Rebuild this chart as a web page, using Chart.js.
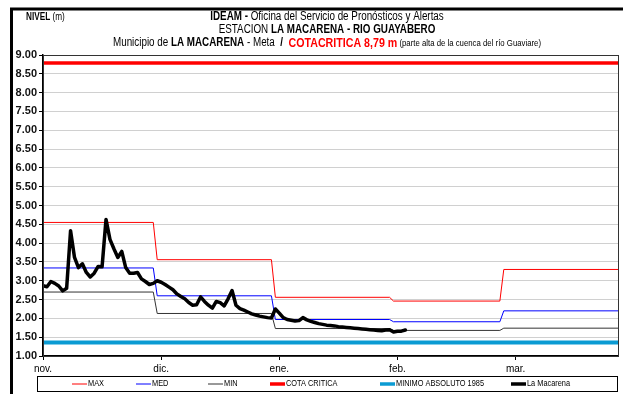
<!DOCTYPE html>
<html>
<head>
<meta charset="utf-8">
<title>Nivel La Macarena</title>
<script src="https://cdn.jsdelivr.net/npm/chart.js@4"></script>
<style>
  html, body { margin: 0; padding: 0; background: #fff; }
  canvas { display: block; }
</style>
</head>
<body>
<canvas id="nivelChart" width="623" height="394"></canvas>
<script>
// month labels on the day axis, one every 30 days from nov. 1
const monthLabels = ['nov.', 'dic.', 'ene.', 'feb.', 'mar.'];
const monthTickDays = [0, 30, 60, 90, 120];
const lastDay = 146;

// day on which each reference level period starts
const periodStartDays = [0, 29, 59, 89, 117];
const maxLevels = [4.55, 3.56, 2.56, 2.46, 3.30];
const medLevels = [3.34, 2.60, 1.97, 1.91, 2.20];
const minLevels = [2.70, 2.13, 1.73, 1.68, 1.74];

const cotaCritica = 8.79;
const minimoAbsoluto = 1.36;

// daily level (m) at La Macarena from nov. 1
const nivelMacarena = [
  2.87, 2.84, 2.98, 2.93, 2.86, 2.73, 2.80, 4.33, 3.62, 3.35,
  3.45, 3.22, 3.10, 3.20, 3.38, 3.37, 4.63, 4.10, 3.85, 3.62,
  3.78, 3.35, 3.20, 3.20, 3.22, 3.05, 2.98, 2.90, 2.93, 3.00,
  2.96, 2.90, 2.83, 2.76, 2.65, 2.58, 2.52, 2.42, 2.35, 2.36,
  2.57, 2.45, 2.35, 2.27, 2.45, 2.42, 2.33, 2.52, 2.74, 2.35,
  2.26, 2.22, 2.17, 2.12, 2.09, 2.06, 2.04, 2.02, 2.01, 2.25,
  2.14, 2.02, 1.97, 1.95, 1.93, 1.94, 2.02, 1.96, 1.92, 1.89,
  1.86, 1.84, 1.82, 1.81, 1.80, 1.78, 1.77, 1.76, 1.75, 1.74,
  1.73, 1.72, 1.71, 1.70, 1.69, 1.68, 1.67, 1.69, 1.70, 1.64,
  1.66, 1.66, 1.69
];

// each level holds for its period and changes over one day
function stepSeries(levels) {
  const pts = [];
  levels.forEach((lv, i) => {
    const end = i < levels.length - 1 ? periodStartDays[i + 1] - 1 : lastDay;
    pts.push({ x: periodStartDays[i], y: lv }, { x: end, y: lv });
  });
  return pts;
}

function flatSeries(v) {
  return [{ x: 0, y: v }, { x: lastDay, y: v }];
}

const NARROW = 0.82;
const SANS = '"Liberation Sans", Arial, sans-serif';

// condensed text runs, laid out left to right
function runsWidth(ctx, runs) {
  let total = 0;
  runs.forEach(r => {
    ctx.font = r.font;
    r.w = ctx.measureText(r.text).width * NARROW;
    total += r.w;
  });
  return total;
}

function drawRuns(ctx, runs, x, y) {
  runs.forEach(r => {
    ctx.save();
    ctx.font = r.font;
    ctx.fillStyle = r.color || '#000';
    ctx.textBaseline = 'middle';
    ctx.translate(x, y);
    ctx.scale(NARROW, 1);
    ctx.fillText(r.text, 0, 0);
    ctx.restore();
    x += r.w;
  });
}

const legendItems = [
  { label: 'MAX', color: '#ff0000', width: 1, x: 72 },
  { label: 'MED', color: '#0000ff', width: 1, x: 136 },
  { label: 'MIN', color: '#333333', width: 1, x: 208 },
  { label: 'COTA CRITICA', color: '#ff0000', width: 3.5, x: 270 },
  { label: 'MINIMO ABSOLUTO 1985', color: '#0b9bd3', width: 3.5, x: 380 },
  { label: 'La Macarena', color: '#000000', width: 3.5, x: 511 }
];

const framePlugin = {
  id: 'frame',
  beforeDraw(chart) {
    const ctx = chart.ctx;
    ctx.save();
    ctx.fillStyle = '#fff';
    ctx.fillRect(0, 0, chart.width, chart.height);
    ctx.restore();
  },
  afterDraw(chart) {
    const ctx = chart.ctx;
    const a = chart.chartArea;
    ctx.save();

    // plot box
    ctx.strokeStyle = '#333';
    ctx.lineWidth = 1;
    ctx.strokeRect(Math.round(a.left) + 0.5, Math.round(a.top) + 0.5,
      Math.round(a.right - a.left), Math.round(a.bottom - a.top));

    // outer sheet border
    ctx.strokeStyle = '#000';
    ctx.lineWidth = 3;
    ctx.beginPath();
    ctx.moveTo(11.5, chart.height);
    ctx.lineTo(11.5, 9);
    ctx.lineTo(chart.width, 9);
    ctx.stroke();

    // axis unit
    const unit = [
      { text: 'NIVEL ', font: 'bold 10px ' + SANS },
      { text: '(m)', font: '10px ' + SANS }
    ];
    runsWidth(ctx, unit);
    drawRuns(ctx, unit, 26, 17);

    // heading
    const cx = 327;
    const lines = [
      [{ text: 'IDEAM - ', font: 'bold 12px ' + SANS },
       { text: 'Oficina del Servicio de Pronósticos y Alertas', font: '12px ' + SANS }],
      [{ text: 'ESTACION ', font: '12px ' + SANS },
       { text: 'LA MACARENA - RIO GUAYABERO', font: 'bold 12px ' + SANS }],
      [{ text: 'Municipio de ', font: '12px ' + SANS },
       { text: 'LA MACARENA', font: 'bold 12px ' + SANS },
       { text: ' - Meta  ', font: '12px ' + SANS },
       { text: '/  ', font: 'bold 12px ' + SANS },
       { text: 'COTACRITICA 8,79 m', font: 'bold 13px ' + SANS, color: '#ff0000' },
       { text: ' (parte alta de la cuenca del río Guaviare)', font: '9.5px ' + SANS }]
    ];
    const lineY = [17, 30, 43];
    lines.forEach((runs, i) => {
      const w = runsWidth(ctx, runs);
      drawRuns(ctx, runs, cx - w / 2, lineY[i]);
    });

    // legend box
    ctx.strokeStyle = '#000';
    ctx.lineWidth = 1;
    ctx.strokeRect(37.5, 376.5, 580, 15);
    legendItems.forEach(item => {
      ctx.strokeStyle = item.color;
      ctx.lineWidth = item.width;
      ctx.beginPath();
      ctx.moveTo(item.x, 384);
      ctx.lineTo(item.x + 15, 384);
      ctx.stroke();
      const run = [{ text: item.label, font: '9px ' + SANS }];
      runsWidth(ctx, run);
      drawRuns(ctx, run, item.x + 16, 384);
    });

    ctx.restore();
  }
};

const ctx = document.getElementById('nivelChart').getContext('2d');
const nivelChart = new Chart(ctx, {
  type: 'line',
  data: {
    datasets: [
      { label: 'MAX', data: stepSeries(maxLevels), borderColor: '#ff0000', borderWidth: 1, order: 3 },
      { label: 'MED', data: stepSeries(medLevels), borderColor: '#0000ff', borderWidth: 1, order: 2 },
      { label: 'MIN', data: stepSeries(minLevels), borderColor: '#333333', borderWidth: 1, order: 4 },
      { label: 'COTA CRITICA', data: flatSeries(cotaCritica), borderColor: '#ff0000', borderWidth: 3.5, order: 5 },
      { label: 'MINIMO ABSOLUTO 1985', data: flatSeries(minimoAbsoluto), borderColor: '#0b9bd3', borderWidth: 4, order: 6 },
      { label: 'La Macarena', data: nivelMacarena.map((v, d) => ({ x: d, y: v })), borderColor: '#000000', borderWidth: 3.5, order: 1 }
    ]
  },
  options: {
    responsive: false,
    animation: false,
    layout: { padding: { top: 55, right: 5, bottom: 16, left: 0 } },
    elements: {
      point: { radius: 0 },
      line: { tension: 0, borderJoinStyle: 'round', borderCapStyle: 'round' }
    },
    plugins: {
      legend: { display: false },
      title: { display: false },
      tooltip: { enabled: false }
    },
    scales: {
      x: {
        type: 'linear',
        min: 0,
        max: lastDay,
        afterBuildTicks: scale => { scale.ticks = monthTickDays.map(v => ({ value: v })); },
        afterFit: scale => { scale.height = 22; },
        ticks: {
          callback: (v, i) => monthLabels[i],
          font: { family: SANS, size: 10 },
          color: '#000',
          padding: 3,
          maxRotation: 0,
          autoSkip: false
        },
        grid: { drawOnChartArea: false, tickLength: 4, tickColor: '#000' },
        border: { color: '#000', width: 1.5 }
      },
      y: {
        min: 1,
        max: 9,
        afterFit: scale => { scale.width = 43; },
        ticks: {
          stepSize: 0.5,
          callback: v => v.toFixed(2),
          font: { family: SANS, size: 11, weight: 'bold' },
          color: '#111',
          padding: 2
        },
        grid: { color: '#a0a0a0', tickColor: '#000', tickLength: 4, lineWidth: 1 },
        border: { color: '#000', width: 1.5, dash: [1, 1] }
      }
    }
  },
  plugins: [framePlugin]
});
</script>
</body>
</html>
